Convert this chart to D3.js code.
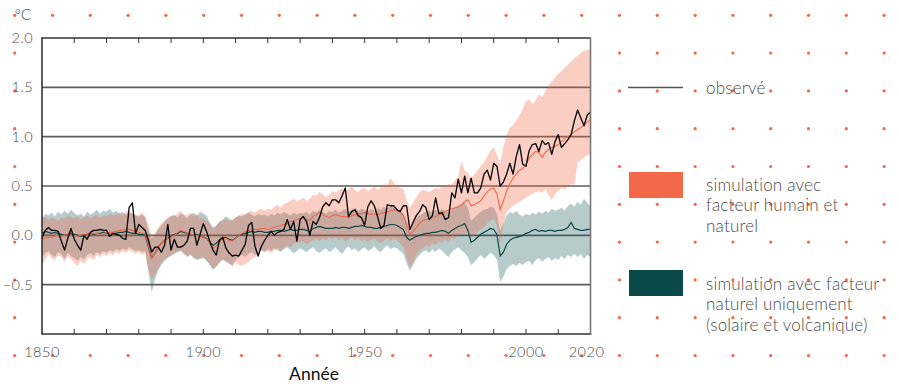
<!DOCTYPE html>
<html>
<head>
<meta charset="utf-8">
<script src="https://cdn.jsdelivr.net/npm/d3@7"></script>
<style>
  body { margin: 0; background: #fff; }
  svg { display: block; font-family: Lato, "Open Sans", sans-serif; font-weight: 300; }
</style>
</head>
<body>
<svg id="chart" width="899" height="386"></svg>
<script>
//
// Data (°C relative to 1850-1900, one value per year 1850..2020)
//

var firstYear = 1850
var lastYear = 2020

var observed = [
  -0.03, 0.05, 0.08, 0.05, 0.05, 0.04, -0.06, -0.15, -0.03, 0.07,
  -0.04, -0.10, -0.15, 0.00, -0.04, 0.03, 0.05, 0.05, 0.06, 0.05,
  0.05, -0.01, 0.02, 0.01, 0.00, -0.03, -0.04, 0.28, 0.33, 0.02,
  0.11, 0.08, 0.05, -0.05, -0.17, -0.12, -0.12, -0.17, -0.10, 0.11,
  -0.15, -0.04, -0.12, -0.12, -0.10, -0.06, 0.07, 0.07, -0.10, 0.01,
  0.12, 0.04, -0.06, -0.15, -0.20, -0.05, -0.02, -0.13, -0.18, -0.21,
  -0.20, -0.21, -0.15, -0.09, 0.10, 0.13, -0.11, -0.21, -0.11, -0.05,
  0.00, 0.04, 0.00, 0.03, 0.04, 0.06, 0.16, 0.06, 0.14, -0.06,
  0.16, 0.19, 0.14, 0.00, 0.14, 0.11, 0.18, 0.29, 0.33, 0.30,
  0.36, 0.36, 0.33, 0.40, 0.48, 0.19, 0.24, 0.26, 0.20, 0.18,
  0.10, 0.29, 0.35, 0.30, 0.19, 0.07, 0.10, 0.31, 0.30, 0.30,
  0.26, 0.24, 0.30, 0.30, 0.06, 0.13, 0.20, 0.24, 0.31, 0.28,
  0.16, 0.20, 0.38, 0.22, 0.23, 0.16, 0.18, 0.43, 0.38, 0.57,
  0.43, 0.60, 0.43, 0.58, 0.43, 0.43, 0.48, 0.62, 0.66, 0.56,
  0.73, 0.70, 0.50, 0.54, 0.62, 0.73, 0.62, 0.80, 0.92, 0.72,
  0.70, 0.86, 0.92, 0.93, 0.85, 0.96, 0.92, 0.94, 0.82, 0.95,
  1.02, 0.89, 0.93, 0.97, 1.02, 1.16, 1.27, 1.19, 1.11, 1.22, 1.25
]

// simulation, human + natural factors: mean, low and high edge of the range
var humanMean = [
  -0.04, -0.03, -0.02, -0.02, -0.01, 0.00, -0.01, 0.00, 0.01, 0.00,
  0.00, -0.01, 0.00, 0.01, 0.00, 0.01, 0.02, 0.02, 0.01, 0.02,
  0.02, 0.03, 0.03, 0.04, 0.05, 0.05, 0.06, 0.06, 0.05, 0.04,
  0.03, 0.02, 0.02, -0.10, -0.23, -0.18, -0.12, -0.08, -0.05, -0.03,
  -0.02, 0.00, 0.03, 0.05, 0.04, 0.02, 0.01, 0.00, 0.00, -0.01,
  -0.02, -0.03, -0.08, -0.13, -0.11, -0.07, -0.04, -0.03, -0.05, -0.06,
  -0.03, 0.00, 0.02, 0.04, 0.05, 0.06, 0.06, 0.06, 0.07, 0.07,
  0.06, 0.07, 0.08, 0.09, 0.10, 0.11, 0.12, 0.14, 0.15, 0.16,
  0.17, 0.18, 0.16, 0.15, 0.19, 0.21, 0.23, 0.22, 0.19, 0.18,
  0.20, 0.21, 0.20, 0.19, 0.19, 0.18, 0.20, 0.21, 0.22, 0.22,
  0.23, 0.22, 0.21, 0.22, 0.21, 0.22, 0.23, 0.24, 0.25, 0.26,
  0.25, 0.24, 0.20, 0.10, 0.01, 0.04, 0.08, 0.12, 0.15, 0.16,
  0.17, 0.18, 0.19, 0.21, 0.22, 0.24, 0.26, 0.27, 0.28, 0.29,
  0.31, 0.34, 0.36, 0.30, 0.31, 0.33, 0.35, 0.40, 0.44, 0.47,
  0.48, 0.42, 0.26, 0.35, 0.45, 0.52, 0.58, 0.62, 0.66, 0.68,
  0.72, 0.78, 0.82, 0.85, 0.84, 0.79, 0.84, 0.87, 0.89, 0.90,
  0.92, 0.95, 0.98, 1.00, 1.02, 1.05, 1.07, 1.09, 1.12, 1.15, 1.17
]
var humanLow = [
  -0.31, -0.24, -0.19, -0.23, -0.25, -0.20, -0.22, -0.27, -0.21, -0.24,
  -0.28, -0.31, -0.26, -0.29, -0.24, -0.22, -0.25, -0.20, -0.22, -0.19,
  -0.21, -0.18, -0.20, -0.17, -0.19, -0.16, -0.18, -0.15, -0.17, -0.19,
  -0.17, -0.20, -0.18, -0.35, -0.45, -0.40, -0.33, -0.28, -0.24, -0.22,
  -0.20, -0.18, -0.17, -0.15, -0.18, -0.21, -0.19, -0.22, -0.24, -0.23,
  -0.22, -0.25, -0.29, -0.34, -0.31, -0.27, -0.24, -0.26, -0.28, -0.32,
  -0.27, -0.30, -0.31, -0.29, -0.27, -0.24, -0.22, -0.20, -0.14, -0.17,
  -0.16, -0.18, -0.15, -0.13, -0.15, -0.12, -0.10, -0.12, -0.09, -0.07,
  -0.08, -0.06, -0.09, -0.07, -0.05, -0.04, -0.06, -0.03, -0.05, -0.02,
  -0.04, -0.02, -0.05, -0.03, -0.06, -0.04, -0.02, -0.05, -0.03, -0.06,
  -0.04, -0.07, -0.05, -0.03, -0.06, -0.08, -0.05, -0.03, -0.06, -0.04,
  -0.05, -0.08, -0.12, -0.22, -0.32, -0.27, -0.20, -0.16, -0.13, -0.10,
  -0.12, -0.08, -0.10, -0.06, -0.08, -0.04, -0.07, -0.02, -0.04, 0.00,
  0.02, 0.00, 0.04, -0.02, 0.00, 0.03, 0.06, 0.08, 0.12, 0.15,
  0.17, 0.10, -0.09, 0.10, 0.24, 0.27, 0.30, 0.32, 0.34, 0.36,
  0.38, 0.40, 0.42, 0.44, 0.45, 0.43, 0.47, 0.40, 0.36, 0.42,
  0.45, 0.48, 0.46, 0.50, 0.52, 0.51, 0.74, 0.76, 0.79, 0.81, 0.83
]
var humanHigh = [
  0.19, 0.18, 0.16, 0.18, 0.17, 0.15, 0.18, 0.17, 0.20, 0.18,
  0.17, 0.19, 0.16, 0.18, 0.20, 0.17, 0.19, 0.21, 0.18, 0.20,
  0.19, 0.22, 0.20, 0.21, 0.23, 0.20, 0.24, 0.26, 0.22, 0.21,
  0.20, 0.23, 0.19, 0.10, -0.02, 0.02, 0.08, 0.12, 0.15, 0.18,
  0.20, 0.19, 0.22, 0.25, 0.21, 0.20, 0.23, 0.19, 0.21, 0.18,
  0.17, 0.15, 0.12, 0.07, 0.09, 0.13, 0.15, 0.17, 0.14, 0.16,
  0.18, 0.20, 0.22, 0.21, 0.24, 0.25, 0.23, 0.26, 0.27, 0.25,
  0.27, 0.26, 0.29, 0.31, 0.28, 0.32, 0.33, 0.35, 0.37, 0.34,
  0.36, 0.38, 0.35, 0.37, 0.41, 0.40, 0.44, 0.42, 0.39, 0.41,
  0.45, 0.43, 0.46, 0.48, 0.44, 0.47, 0.49, 0.46, 0.44, 0.47,
  0.48, 0.45, 0.47, 0.50, 0.46, 0.49, 0.52, 0.50, 0.58, 0.53,
  0.50, 0.48, 0.47, 0.36, 0.28, 0.33, 0.38, 0.44, 0.46, 0.45,
  0.44, 0.46, 0.48, 0.47, 0.50, 0.49, 0.52, 0.51, 0.56, 0.60,
  0.75, 0.66, 0.63, 0.58, 0.62, 0.66, 0.70, 0.74, 0.80, 0.86,
  0.89, 0.82, 0.72, 0.90, 1.02, 1.09, 1.12, 1.16, 1.22, 1.28,
  1.36, 1.38, 1.33, 1.37, 1.43, 1.40, 1.46, 1.52, 1.56, 1.60,
  1.64, 1.66, 1.70, 1.73, 1.76, 1.80, 1.82, 1.85, 1.87, 1.88, 1.88
]

// simulation, natural factors only (solar and volcanic)
var naturalMean = [
  0.02, 0.04, 0.03, 0.02, 0.03, 0.02, 0.01, 0.00, 0.01, 0.02,
  0.01, 0.00, -0.01, 0.00, 0.01, 0.02, 0.01, 0.02, 0.02, 0.03,
  0.02, 0.03, 0.02, 0.02, 0.03, 0.03, 0.04, 0.03, 0.02, 0.02,
  0.01, 0.01, 0.00, -0.12, -0.23, -0.18, -0.12, -0.08, -0.05, -0.03,
  -0.01, 0.01, 0.02, 0.04, 0.03, 0.02, 0.01, 0.00, 0.01, -0.01,
  -0.02, -0.03, -0.07, -0.10, -0.08, -0.05, -0.03, -0.02, -0.04, -0.05,
  -0.03, 0.00, 0.01, 0.02, 0.03, 0.04, 0.03, 0.04, 0.04, 0.03,
  0.03, 0.04, 0.04, 0.05, 0.05, 0.04, 0.05, 0.06, 0.05, 0.05,
  0.06, 0.06, 0.05, 0.04, 0.07, 0.08, 0.09, 0.08, 0.07, 0.07,
  0.07, 0.08, 0.07, 0.08, 0.08, 0.07, 0.08, 0.09, 0.09, 0.10,
  0.09, 0.08, 0.08, 0.07, 0.07, 0.08, 0.09, 0.10, 0.11, 0.11,
  0.10, 0.08, 0.06, -0.02, -0.05, -0.03, -0.01, 0.00, 0.01, 0.02,
  0.02, 0.03, 0.03, 0.04, 0.05, 0.04, 0.02, 0.05, 0.07, 0.09,
  0.10, 0.12, 0.05, -0.07, -0.05, -0.02, 0.01, 0.03, 0.05, 0.07,
  0.06, 0.01, -0.21, -0.17, -0.09, -0.05, -0.03, -0.02, -0.01, 0.00,
  0.02, 0.03, 0.05, 0.06, 0.04, 0.05, 0.04, 0.05, 0.05, 0.04,
  0.05, 0.05, 0.06, 0.08, 0.13, 0.07, 0.06, 0.05, 0.05, 0.06, 0.06
]
var naturalLow = [
  -0.22, -0.18, -0.16, -0.20, -0.22, -0.17, -0.19, -0.24, -0.18, -0.21,
  -0.23, -0.26, -0.22, -0.24, -0.20, -0.18, -0.21, -0.17, -0.19, -0.16,
  -0.18, -0.15, -0.17, -0.14, -0.16, -0.13, -0.15, -0.12, -0.14, -0.16,
  -0.15, -0.17, -0.16, -0.38, -0.58, -0.45, -0.36, -0.30, -0.26, -0.23,
  -0.21, -0.19, -0.17, -0.16, -0.19, -0.22, -0.20, -0.23, -0.25, -0.24,
  -0.23, -0.26, -0.30, -0.35, -0.32, -0.28, -0.25, -0.27, -0.29, -0.30,
  -0.25, -0.22, -0.20, -0.22, -0.19, -0.17, -0.20, -0.18, -0.15, -0.17,
  -0.14, -0.16, -0.13, -0.15, -0.17, -0.14, -0.12, -0.15, -0.18, -0.16,
  -0.13, -0.15, -0.17, -0.14, -0.12, -0.16, -0.18, -0.15, -0.13, -0.17,
  -0.15, -0.12, -0.16, -0.19, -0.14, -0.11, -0.15, -0.13, -0.17, -0.14,
  -0.12, -0.16, -0.14, -0.11, -0.15, -0.17, -0.13, -0.10, -0.14, -0.12,
  -0.13, -0.16, -0.19, -0.28, -0.36, -0.30, -0.24, -0.20, -0.17, -0.15,
  -0.18, -0.14, -0.17, -0.13, -0.16, -0.19, -0.22, -0.17, -0.14, -0.12,
  -0.15, -0.18, -0.22, -0.30, -0.27, -0.23, -0.20, -0.24, -0.21, -0.18,
  -0.20, -0.25, -0.47, -0.42, -0.34, -0.31, -0.29, -0.31, -0.28, -0.30,
  -0.27, -0.26, -0.30, -0.25, -0.23, -0.27, -0.24, -0.22, -0.26, -0.23,
  -0.25, -0.21, -0.24, -0.20, -0.22, -0.19, -0.22, -0.19, -0.24, -0.20, -0.22
]
var naturalHigh = [
  0.16, 0.22, 0.20, 0.23, 0.19, 0.24, 0.21, 0.25, 0.22, 0.26,
  0.23, 0.20, 0.22, 0.19, 0.24, 0.21, 0.23, 0.26, 0.22, 0.25,
  0.24, 0.27, 0.23, 0.25, 0.22, 0.24, 0.21, 0.23, 0.22, 0.20,
  0.19, 0.21, 0.18, 0.05, -0.03, 0.00, 0.06, 0.10, 0.14, 0.17,
  0.19, 0.21, 0.18, 0.22, 0.20, 0.17, 0.21, 0.23, 0.20, 0.24,
  0.22, 0.20, 0.13, 0.08, 0.10, 0.14, 0.16, 0.19, 0.17, 0.15,
  0.18, 0.20, 0.19, 0.21, 0.23, 0.21, 0.19, 0.22, 0.20, 0.21,
  0.19, 0.22, 0.20, 0.23, 0.21, 0.24, 0.22, 0.20, 0.23, 0.21,
  0.23, 0.22, 0.24, 0.21, 0.25, 0.23, 0.26, 0.24, 0.22, 0.25,
  0.24, 0.26, 0.23, 0.25, 0.27, 0.24, 0.26, 0.28, 0.25, 0.27,
  0.26, 0.24, 0.27, 0.25, 0.28, 0.26, 0.29, 0.27, 0.30, 0.28,
  0.27, 0.25, 0.22, 0.15, 0.08, 0.12, 0.17, 0.20, 0.22, 0.24,
  0.25, 0.23, 0.26, 0.24, 0.27, 0.25, 0.23, 0.26, 0.28, 0.30,
  0.31, 0.33, 0.28, 0.15, 0.18, 0.21, 0.24, 0.26, 0.27, 0.29,
  0.28, 0.22, 0.05, 0.12, 0.20, 0.24, 0.22, 0.25, 0.21, 0.19,
  0.22, 0.20, 0.23, 0.21, 0.24, 0.22, 0.25, 0.23, 0.27, 0.25,
  0.26, 0.28, 0.25, 0.30, 0.32, 0.29, 0.34, 0.31, 0.37, 0.33, 0.29
]

var yTicks = [-0.5, 0.0, 0.5, 1.0, 1.5, 2.0]
var xLabels = [1850, 1900, 1950, 2000, 2020]

var legendItems = [
  { kind: 'line', lines: ['observé'] },
  { kind: 'human', lines: ['simulation avec', 'facteur humain et', 'naturel'] },
  { kind: 'natural', lines: ['simulation avec facteur', 'naturel uniquement', '(solaire et volcanique)'] }
]

//
// Styles
//

var colorOrange = '#f26849'
var colorTeal = '#0b4a49'
var colorTealBand = '#1f5e5c'
var colorGrid = '#5c5c5c'
var colorText = '#4a4a4a'

var svg = d3.select('#chart')
var W = 899, H = 386
var plot = { left: 42, right: 590.5, top: 38, bottom: 334 }

var years = d3.range(firstYear, lastYear + 1)

var x = d3.scaleLinear().domain([1850, 2020]).range([plot.left, plot.right])
var y = d3.scaleLinear().domain([-1, 2]).range([plot.bottom, plot.top])

svg.append('rect').attr('width', W).attr('height', H).attr('fill', '#fff')

// dotted background grid
var dotXs = d3.range(0, 24).map(function (i) { return 14.7 + i * 37.8 })
var dotYs = d3.range(0, 10).map(function (i) { return 15.3 + i * 37.8 })
var dots = svg.append('g')
dotYs.forEach(function (dy) {
  dotXs.forEach(function (dx) {
    dots.append('circle').attr('cx', dx).attr('cy', dy).attr('r', 1.6).attr('fill', colorOrange)
  })
})

// white plot area hides the dots
svg.append('rect')
  .attr('x', plot.left).attr('y', plot.top)
  .attr('width', plot.right - plot.left).attr('height', plot.bottom - plot.top)
  .attr('fill', '#fff')

// horizontal grid lines
svg.append('g').selectAll('line')
  .data(yTicks.filter(function (d) { return d < 2 }))
  .enter().append('line')
  .attr('x1', plot.left).attr('x2', plot.right)
  .attr('y1', function (d) { return y(d) }).attr('y2', function (d) { return y(d) })
  .attr('stroke', colorGrid).attr('stroke-width', 1.6)

// bands
function band(lo, hi) {
  return d3.area()
    .x(function (d, i) { return x(years[i]) })
    .y0(function (d, i) { return y(lo[i]) })
    .y1(function (d, i) { return y(hi[i]) })(years)
}
function line(vals) {
  return d3.line()
    .x(function (d, i) { return x(years[i]) })
    .y(function (d, i) { return y(vals[i]) })(years)
}

svg.append('path').attr('d', band(naturalLow, naturalHigh))
  .attr('fill', colorTealBand).attr('fill-opacity', 0.32)
svg.append('path').attr('d', band(humanLow, humanHigh))
  .attr('fill', colorOrange).attr('fill-opacity', 0.32)

svg.append('path').attr('d', line(naturalMean))
  .attr('fill', 'none').attr('stroke', colorTeal).attr('stroke-width', 1.2)
svg.append('path').attr('d', line(humanMean))
  .attr('fill', 'none').attr('stroke', colorOrange).attr('stroke-width', 1.1)
svg.append('path').attr('d', line(observed))
  .attr('fill', 'none').attr('stroke', '#000').attr('stroke-width', 1.3)
  .attr('stroke-linejoin', 'round')

// frame and ticks
var decades = d3.range(1860, 2020, 10)
var frame = svg.append('g')
frame.append('line').attr('x1', plot.left).attr('x2', plot.right)
  .attr('y1', plot.top).attr('y2', plot.top).attr('stroke', '#333').attr('stroke-width', 1.6)
frame.append('line').attr('x1', plot.left).attr('x2', plot.right + 0.8)
  .attr('y1', plot.bottom).attr('y2', plot.bottom).attr('stroke', '#333').attr('stroke-width', 1.6)
frame.append('line').attr('x1', plot.left).attr('x2', plot.left)
  .attr('y1', plot.top - 0.8).attr('y2', plot.bottom + 0.8).attr('stroke', '#333').attr('stroke-width', 1.6)
frame.append('line').attr('x1', plot.right).attr('x2', plot.right)
  .attr('y1', plot.top - 0.8).attr('y2', plot.bottom + 0.8).attr('stroke', '#777').attr('stroke-width', 1.6)
frame.selectAll('.tt').data(decades).enter().append('line')
  .attr('x1', function (d) { return x(d) }).attr('x2', function (d) { return x(d) })
  .attr('y1', plot.top).attr('y2', plot.top + 5).attr('stroke', '#333').attr('stroke-width', 1)
frame.selectAll('.tb').data(decades).enter().append('line')
  .attr('x1', function (d) { return x(d) }).attr('x2', function (d) { return x(d) })
  .attr('y1', plot.bottom).attr('y2', plot.bottom - 5).attr('stroke', '#333').attr('stroke-width', 1)

// tick labels
svg.append('g').selectAll('text').data(yTicks).enter().append('text')
  .attr('x', 33).attr('y', function (d) { return y(d) + 5 })
  .attr('text-anchor', 'end').attr('font-size', 14.5).attr('letter-spacing', 0.4)
  .attr('fill', colorText)
  .text(function (d) { return d3.format('.1f')(d) })

svg.append('g').selectAll('text').data(xLabels).enter().append('text')
  .attr('x', function (d) { return x(d) - (d === 2020 ? 4 : 0) }).attr('y', 357)
  .attr('text-anchor', 'middle').attr('font-size', 14.5).attr('letter-spacing', 0.5)
  .attr('fill', colorText)
  .text(function (d) { return d })

svg.append('text').attr('x', 23).attr('y', 20).attr('text-anchor', 'middle')
  .attr('font-size', 15).attr('fill', colorText).text('°C')

svg.append('text').attr('x', 314).attr('y', 380).attr('text-anchor', 'middle')
  .attr('font-size', 17.5).attr('font-weight', 400).attr('fill', '#111').text('Année')

// legend
var lg = svg.append('g')
lg.append('line').attr('x1', 628).attr('x2', 683).attr('y1', 87.5).attr('y2', 87.5)
  .attr('stroke', '#555').attr('stroke-width', 1.6)
lg.append('rect').attr('x', 629).attr('y', 172).attr('width', 54).attr('height', 26).attr('fill', colorOrange)
lg.append('rect').attr('x', 629).attr('y', 270).attr('width', 54).attr('height', 26).attr('fill', colorTeal)

var legendBase = [93.5, 190.5, 289.5]
legendItems.forEach(function (item, k) {
  item.lines.forEach(function (t, j) {
    lg.append('text').attr('x', 706).attr('y', legendBase[k] + j * 20.8)
      .attr('font-size', 17).attr('letter-spacing', 0.2).attr('fill', colorText).text(t)
  })
})
</script>
</body>
</html>
